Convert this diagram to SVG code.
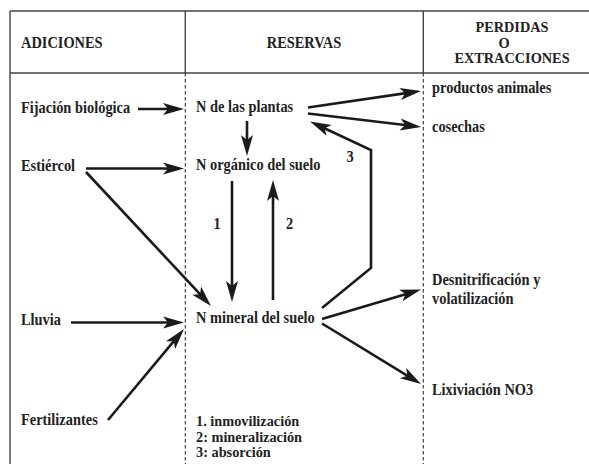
<svg xmlns="http://www.w3.org/2000/svg" width="589" height="464" viewBox="0 0 589 464">
<defs>
<style>
text{font-family:'Liberation Serif','Times New Roman',serif;font-weight:700;font-size:16px;fill:#222}
.sm{font-size:14.3px}
.mid{text-anchor:middle}
.frame{stroke:#444;stroke-width:1.4;fill:none}
.dash{stroke:#333;stroke-width:1.1;stroke-dasharray:3.5 2.5;fill:none}
.arr{stroke:#1a1a1a;stroke-width:2.6;fill:none;marker-end:url(#ah)}
</style>
<marker id="ah" markerUnits="userSpaceOnUse" orient="auto" markerWidth="30" markerHeight="20" viewBox="-12 -10 30 20" refX="0" refY="0" overflow="visible">
<path d="M10,0 L-11,-6 L-6,0 L-11,6 Z" fill="#1a1a1a"/>
</marker>
</defs>
<rect width="589" height="464" fill="#fff"/>
<g id="frame">
<line class="frame" x1="10" y1="11" x2="589" y2="11"/>
<line class="frame" x1="10" y1="73" x2="589" y2="73"/>
<line class="frame" x1="10" y1="11" x2="10" y2="464"/>
<line class="frame" x1="185.3" y1="11" x2="185.3" y2="73"/>
<line class="frame" x1="423.3" y1="11" x2="423.3" y2="73"/>
<line class="dash" x1="185.3" y1="73" x2="185.3" y2="464"/>
<line class="dash" x1="423.3" y1="73" x2="423.3" y2="464"/>
</g>
<g id="headers">
<g transform="scale(0.9,1)">
<text x="23.33" y="48">ADICIONES</text>
<text class="mid" x="337.78" y="48">RESERVAS</text>
</g>
<text class="mid sm" x="512" y="32">PERDIDAS</text>
<text class="mid sm" x="504" y="47.7">O</text>
<text class="mid sm" x="512" y="63.3">EXTRACCIONES</text>
</g>
<g id="n-fijacion" transform="scale(0.9,1)"><text x="23.33" y="113">Fijación biológica</text></g>
<g id="n-estiercol" transform="scale(0.9,1)"><text x="23.33" y="171">Estiércol</text></g>
<g id="n-lluvia" transform="scale(0.9,1)"><text x="23.33" y="325">Lluvia</text></g>
<g id="n-fertilizantes" transform="scale(0.9,1)"><text x="23.33" y="425">Fertilizantes</text></g>
<g id="n-plantas" transform="scale(0.9,1)"><text x="217.78" y="112">N de las plantas</text></g>
<g id="n-organico" transform="scale(0.9,1)"><text x="217.78" y="170">N orgánico del suelo</text></g>
<g id="n-mineral" transform="scale(0.9,1)"><text x="217.78" y="323.5">N mineral del suelo</text></g>
<g id="n-productos" transform="scale(0.9,1)"><text x="480" y="93">productos animales</text></g>
<g id="n-cosechas" transform="scale(0.9,1)"><text x="480" y="132">cosechas</text></g>
<g id="n-desnitrificacion" transform="scale(0.9,1)"><text x="480" y="285">Desnitrificación y</text><text x="480" y="304">volatilización</text></g>
<g id="n-lixiviacion" transform="scale(0.9,1)"><text x="480" y="395">Lixiviación NO3</text></g>
<g id="legend">
<text class="sm" x="196" y="426">1. inmovilización</text>
<text class="sm" x="196" y="441.5">2: mineralización</text>
<text class="sm" x="196" y="457">3: absorción</text>
</g>
<g id="connectors">
<line class="arr" x1="138" y1="109" x2="174" y2="109"/>
<line class="arr" x1="86" y1="168.5" x2="174" y2="168.5"/>
<line class="arr" x1="86" y1="172" x2="204.2" y2="298.7"/>
<line class="arr" x1="71" y1="322.5" x2="174" y2="322.5"/>
<line class="arr" x1="108" y1="420" x2="177.6" y2="336.7"/>
<line class="arr" x1="247" y1="121" x2="247" y2="146"/>
<line class="arr" x1="232" y1="181" x2="232" y2="292"/>
<line class="arr" x1="273" y1="300" x2="273" y2="190"/>
<line class="arr" x1="308" y1="107.5" x2="411.1" y2="92.4"/>
<line class="arr" x1="308" y1="113.5" x2="411.1" y2="125.8"/>
<polyline class="arr" points="322,308 371,268 371,150 319.1,125.7"/>
<line class="arr" x1="322" y1="319" x2="411.4" y2="292.4"/>
<line class="arr" x1="322" y1="323.5" x2="412.5" y2="378.8"/>
<g transform="scale(0.9,1)">
<text x="237.22" y="229">1</text>
<text x="317.78" y="229">2</text>
<text x="385" y="162">3</text>
</g>
</g>
</svg>
